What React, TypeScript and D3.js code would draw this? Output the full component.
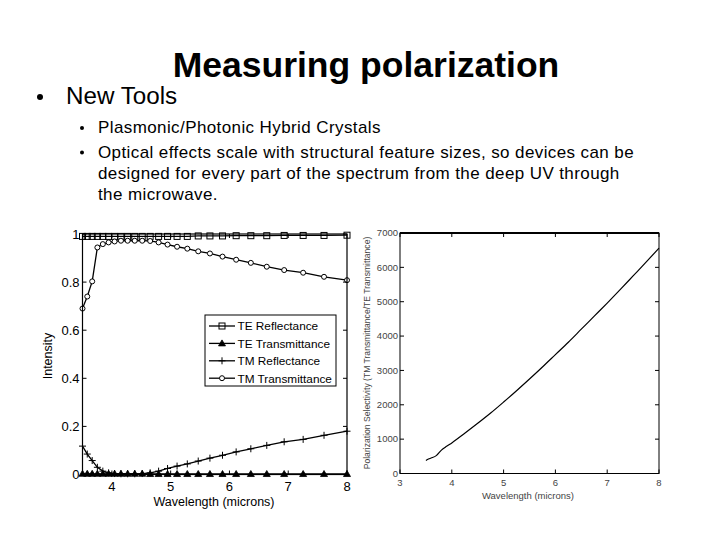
import React from "react";
import * as d3 from "d3";

// wavelengths (microns) of the simulated points, left plot
const wavelengths = [
  3.5, 3.581, 3.665, 3.753, 3.846, 3.944, 4.046, 4.154, 4.268, 4.389, 4.516, 4.651, 4.795,
  4.947, 5.109, 5.283, 5.469, 5.668, 5.882, 6.114, 6.364, 6.635, 6.931, 7.254, 7.609, 8.0,
];
const teReflectance = [
  0.99, 0.99, 0.99, 0.99, 0.99, 0.99, 0.99, 0.99, 0.99, 0.99, 0.99, 0.99, 0.99,
  0.99, 0.99, 0.99, 0.992, 0.992, 0.992, 0.993, 0.993, 0.993, 0.994, 0.994, 0.994, 0.995,
];
const teTransmittance = [
  0.003, 0.003, 0.003, 0.003, 0.003, 0.003, 0.003, 0.003, 0.003, 0.003, 0.003, 0.002, 0.002,
  0.002, 0.002, 0.002, 0.002, 0.002, 0.002, 0.002, 0.002, 0.002, 0.002, 0.002, 0.002, 0.002,
];
const tmReflectance = [
  0.118, 0.085, 0.058, 0.03, 0.014, 0.007, 0.004, 0.003, 0.003, 0.003, 0.004, 0.007, 0.014,
  0.025, 0.035, 0.044, 0.056, 0.068, 0.08, 0.094, 0.107, 0.121, 0.136, 0.146, 0.163, 0.18,
];
const tmTransmittance = [
  0.69, 0.74, 0.803, 0.944, 0.958, 0.965, 0.969, 0.972, 0.972, 0.972, 0.972, 0.971, 0.965,
  0.956, 0.947, 0.939, 0.928, 0.919, 0.906, 0.893, 0.88, 0.864, 0.85, 0.839, 0.822, 0.808,
];

// right plot: polarization selectivity curve
const selWavelengths = [
  3.5, 3.55, 3.6, 3.7, 3.8, 3.9, 4.0, 4.25, 4.5, 4.75, 5.0, 5.25, 5.5, 5.75, 6.0, 6.25, 6.5,
  6.75, 7.0, 7.25, 7.5, 7.75, 8.0,
];
const selectivity = [
  380, 420, 450, 520, 680, 790, 890, 1170, 1460, 1760, 2080, 2410, 2750, 3100, 3460, 3820,
  4200, 4580, 4960, 5350, 5750, 6150, 6560,
];

const leftXTicks = [4, 5, 6, 7, 8];
const leftYTicks = [0, 0.2, 0.4, 0.6, 0.8, 1];
const rightXTicks = [3, 4, 5, 6, 7, 8];
const rightYTicks = [0, 1000, 2000, 3000, 4000, 5000, 6000, 7000];

const seriesNames = ["TE Reflectance", "TE Transmittance", "TM Reflectance", "TM Transmittance"];
const seriesValues = [teReflectance, teTransmittance, tmReflectance, tmTransmittance];
const markerTypes = ["square", "triangle", "plus", "circle"];

const subBullets = [
  ["Plasmonic/Photonic Hybrid Crystals"],
  [
    "Optical effects scale with structural feature sizes, so devices can be",
    "designed for every part of the spectrum from the deep UV through",
    "the microwave.",
  ],
];
const subBaselines = [[133], [157.5, 178.5, 199.5]];

const FONT = "Liberation Sans, Arial, Helvetica, sans-serif";

function Marker({ type, x, y }: { type: string; x: number; y: number }) {
  if (type === "square")
    return <rect x={x - 3} y={y - 3} width={6} height={6} fill="none" stroke="#000" strokeWidth={1} />;
  if (type === "triangle")
    return (
      <path
        d={`M${x},${y - 3.5}L${x + 3.5},${y + 2.5}L${x - 3.5},${y + 2.5}Z`}
        fill="#000"
        stroke="#000"
        strokeWidth={0.8}
      />
    );
  if (type === "plus")
    return <path d={`M${x - 3.5},${y}H${x + 3.5}M${x},${y - 3.5}V${y + 3.5}`} stroke="#000" strokeWidth={1} />;
  return <circle cx={x} cy={y} r={2.5} fill="#fff" stroke="#000" strokeWidth={1} />;
}

function LeftPlot() {
  const x = d3.scaleLinear().domain([3.5, 8]).range([82.5, 347]);
  const y = d3.scaleLinear().domain([0, 1]).range([474.5, 234]);
  const line = d3
    .line<number>()
    .x((_, i) => x(wavelengths[i]))
    .y((d) => y(d));
  const [x0, x1] = x.range();
  const [y0, y1] = y.range();
  const tick = 4;
  return (
    <g fontFamily={FONT} fill="#000">
      {seriesValues.map((vals, si) => (
        <g key={si}>
          <path d={line(vals) || ""} fill="none" stroke="#000" strokeWidth={1.3} />
          {vals.map((v, i) => (
            <Marker key={i} type={markerTypes[si]} x={x(wavelengths[i])} y={y(v)} />
          ))}
        </g>
      ))}
      <rect x={x0} y={y1} width={x1 - x0} height={y0 - y1} fill="none" stroke="#000" strokeWidth={1.2} />
      {leftXTicks.map((t) => (
        <g key={t}>
          <line x1={x(t)} x2={x(t)} y1={y0} y2={y0 - tick} stroke="#000" />
          <line x1={x(t)} x2={x(t)} y1={y1} y2={y1 + tick} stroke="#000" />
          <text x={x(t)} y={y0 + 16.5} fontSize={13} textAnchor="middle">
            {t}
          </text>
        </g>
      ))}
      {leftYTicks.map((t) => (
        <g key={t}>
          <line x1={x0} x2={x0 + tick} y1={y(t)} y2={y(t)} stroke="#000" />
          <line x1={x1} x2={x1 - tick} y1={y(t)} y2={y(t)} stroke="#000" />
          <text x={x0 - 3} y={y(t) + 4.5} fontSize={13} textAnchor="end">
            {t}
          </text>
        </g>
      ))}
      <text x={214} y={506} fontSize={12.5} textAnchor="middle">
        Wavelength (microns)
      </text>
      <text transform="translate(52,356) rotate(-90)" fontSize={12.5} textAnchor="middle">
        Intensity
      </text>
      {/* legend */}
      <rect x={205} y={315} width={131} height={71} fill="#fff" stroke="#000" strokeWidth={1} />
      {seriesNames.map((name, i) => {
        const ly = 326 + i * 17.4;
        return (
          <g key={name}>
            <line x1={209} x2={235} y1={ly} y2={ly} stroke="#000" strokeWidth={1.3} />
            <Marker type={markerTypes[i]} x={222} y={ly} />
            <text x={237.5} y={ly + 4.3} fontSize={11.8}>
              {name}
            </text>
          </g>
        );
      })}
    </g>
  );
}

function RightPlot() {
  const x = d3.scaleLinear().domain([3, 8]).range([400, 659]);
  const y = d3.scaleLinear().domain([0, 7000]).range([473.5, 233]);
  const line = d3
    .line<number>()
    .x((_, i) => x(selWavelengths[i]))
    .y((d) => y(d))
    .curve(d3.curveMonotoneX);
  const [x0, x1] = x.range();
  const [y0, y1] = y.range();
  const tick = 4;
  const textColor = "#444";
  return (
    <g fontFamily={FONT}>
      <path d={line(selectivity) || ""} fill="none" stroke="#000" strokeWidth={1.2} />
      <rect x={x0} y={y1} width={x1 - x0} height={y0 - y1} fill="none" stroke="#000" strokeWidth={1} />
      <line x1={x0} x2={x1} y1={y1} y2={y1} stroke="#000" strokeWidth={2} />
      {rightXTicks.map((t) => (
        <g key={t}>
          <line x1={x(t)} x2={x(t)} y1={y0} y2={y0 - tick} stroke="#000" />
          <line x1={x(t)} x2={x(t)} y1={y1} y2={y1 + tick} stroke="#000" />
          <text x={x(t)} y={y0 + 12} fontSize={9.5} textAnchor="middle" fill={textColor}>
            {t}
          </text>
        </g>
      ))}
      {rightYTicks.map((t) => (
        <g key={t}>
          <line x1={x0} x2={x0 + tick} y1={y(t)} y2={y(t)} stroke="#000" />
          <line x1={x1} x2={x1 - tick} y1={y(t)} y2={y(t)} stroke="#000" />
          <text x={x0 - 2} y={y(t) + 3.3} fontSize={9.5} textAnchor="end" fill={textColor}>
            {t}
          </text>
        </g>
      ))}
      <text x={528} y={499} fontSize={9.5} textAnchor="middle" fill={textColor}>
        Wavelength (microns)
      </text>
      <text
        transform="translate(370,353) rotate(-90)"
        fontSize={8.6}
        textAnchor="middle"
        fill={textColor}
      >
        Polarization Selectivity (TM Transmittance/TE Transmittance)
      </text>
    </g>
  );
}

export default function App() {
  return (
    <div style={{ position: "absolute", left: 0, top: 0, width: 720, height: 540, background: "#fff" }}>
      <svg width={720} height={540} viewBox="0 0 720 540">
        <rect width={720} height={540} fill="#fff" />
        <text x={366} y={77} fontFamily={FONT} fontSize={35.5} fontWeight="bold" textAnchor="middle">
          Measuring polarization
        </text>
        <circle cx={40} cy={97} r={3} fill="#000" />
        <text x={66} y={104} fontFamily={FONT} fontSize={24.2}>
          New Tools
        </text>
        {subBullets.map((lines, bi) => (
          <g key={bi}>
            <circle cx={82} cy={subBaselines[bi][0] - 5} r={2} fill="#000" />
            {lines.map((l, li) => (
              <text
                key={li}
                x={98}
                y={subBaselines[bi][li]}
                fontFamily={FONT}
                fontSize={17}
                letterSpacing={0.4}
              >
                {l}
              </text>
            ))}
          </g>
        ))}
        <LeftPlot />
        <RightPlot />
      </svg>
    </div>
  );
}
